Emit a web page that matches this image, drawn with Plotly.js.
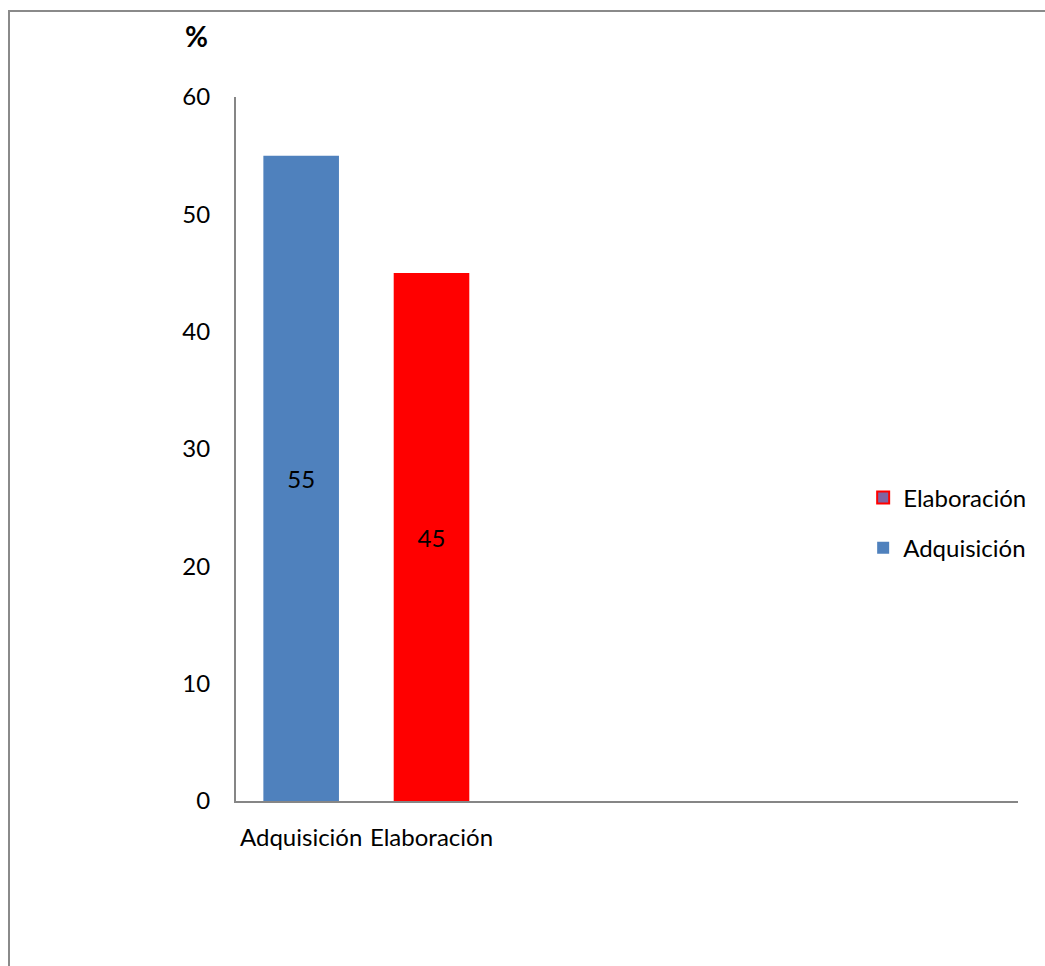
<!DOCTYPE html>
<html>
<head>
<meta charset="utf-8">
<script src="https://cdn.plot.ly/plotly-3.0.1.min.js"></script>
<style>
html,body{margin:0;padding:0;background:#fff;}
#chart{width:1045px;height:966px;position:absolute;left:0;top:0;}
#frame{position:absolute;left:8px;top:10px;width:1100px;height:1100px;border:2px solid #8a8a8a;pointer-events:none;}
</style>
</head>
<body>
<div id="chart"></div>
<div id="frame"></div>
<script>
const categories = ['Adquisición', 'Elaboración'];
const seriesNames = ['Adquisición', 'Elaboración'];
const adquisicionValues = [55];
const elaboracionValues = [45];
const yTicks = [0, 10, 20, 30, 40, 50, 60];

const FONT = 'Lato, "Open Sans", sans-serif';
const FS = 24;

const traces = [
  {
    type: 'bar', name: seriesNames[0], x: [categories[0]], y: adquisicionValues,
    marker: {color: '#4F81BD'}, width: 0.58,
    text: adquisicionValues.map(String), textposition: 'inside', insidetextanchor: 'middle',
    textfont: {color: '#000', size: FS, family: FONT},
    legendgroup: 'a', legendrank: 2, hoverinfo: 'x+y'
  },
  {
    type: 'bar', name: seriesNames[1], x: [categories[1]], y: elaboracionValues,
    marker: {color: '#FF0000'}, width: 0.58,
    text: elaboracionValues.map(String), textposition: 'inside', insidetextanchor: 'middle',
    textfont: {color: '#000', size: FS, family: FONT},
    showlegend: false, hoverinfo: 'x+y'
  },
  {
    type: 'bar', name: seriesNames[1], x: [categories[1]], y: [null],
    marker: {color: '#8064A2', line: {color: '#FF0000', width: 2}},
    legendgroup: 'e', legendrank: 1, showlegend: true, hoverinfo: 'skip'
  }
];

const layout = {
  width: 1045, height: 966,
  margin: {l: 236, r: 27, t: 97, b: 165, autoexpand: false},
  paper_bgcolor: '#fff', plot_bgcolor: '#fff',
  font: {family: FONT, size: FS, color: '#000'},
  barmode: 'overlay',
  showlegend: true,
  legend: {
    x: 0.802, y: 0.395, xanchor: 'left', yanchor: 'middle',
    font: {family: FONT, size: FS, color: '#000'},
    tracegroupgap: 16, bgcolor: 'rgba(0,0,0,0)'
  },
  xaxis: {
    type: 'category', categoryorder: 'array', categoryarray: categories,
    range: [-0.5, 5.5], showgrid: false, zeroline: false,
    showline: true, linecolor: '#868686', linewidth: 2,
    ticks: '', tickfont: {family: FONT, size: FS, color: '#000'},
    ticklabelstandoff: 14
  },
  yaxis: {
    range: [0, 60], tickvals: yTicks, ticktext: yTicks.map(String),
    showgrid: false, zeroline: false,
    showline: true, linecolor: '#868686', linewidth: 2,
    ticks: '', tickfont: {family: FONT, size: FS, color: '#000'},
    ticklabelstandoff: 19
  },
  annotations: [{
    text: '<b>%</b>', xref: 'paper', yref: 'paper', x: -0.05, y: 1.087,
    xanchor: 'center', yanchor: 'middle', showarrow: false,
    font: {family: FONT, size: 28, color: '#000'}
  }]
};

Plotly.newPlot('chart', traces, layout, {displayModeBar: false, staticPlot: true});
</script>
</body>
</html>
